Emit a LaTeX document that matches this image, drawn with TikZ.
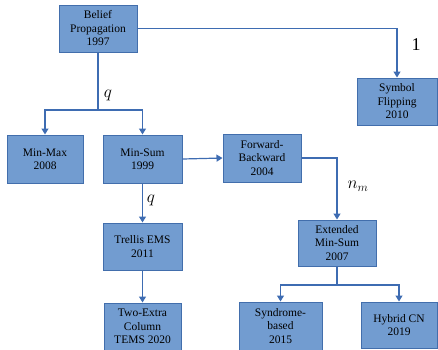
\documentclass[tikz,border=0pt]{standalone}
\usepackage{fontspec}
\setmainfont{Liberation Serif}
\usetikzlibrary{arrows.meta}
\definecolor{boxfill}{RGB}{114,156,208}
\definecolor{boxline}{RGB}{66,110,172}
\definecolor{linkcol}{RGB}{62,108,178}
\tikzset{
  algo/.style={draw=boxline, fill=boxfill, line width=1pt, rectangle,
    align=center, inner sep=0pt, font=\fontsize{11.5}{13.5}\selectfont},
  link/.style={draw=linkcol, line width=1.2pt},
  arr/.style={link, -{Triangle[width=7pt,length=6pt]}},
  lbl/.style={font=\fontsize{17}{17}\selectfont, inner sep=0pt}
}
\begin{document}
\begin{tikzpicture}[x=1pt,y=-1pt]
\useasboundingbox (0,0) rectangle (438,349);
% algorithm boxes
\node[algo, minimum width=78pt, minimum height=47pt] (bp)   at (98,28.5)   {Belief\\Propagation\\1997};
\node[algo, minimum width=80pt, minimum height=47pt] (sf)   at (397,101.5) {Symbol\\Flipping\\2010};
\node[algo, minimum width=76pt, minimum height=48pt] (mm)   at (45,159)    {Min-Max\\2008};
\node[algo, minimum width=79pt, minimum height=48pt] (ms)   at (142.5,159) {Min-Sum\\1999};
\node[algo, minimum width=78pt, minimum height=48pt] (fb)   at (262,158)   {Forward-\\Backward\\2004};
\node[algo, minimum width=79pt, minimum height=47pt] (te)   at (142.5,246.5) {Trellis EMS\\2011};
\node[algo, minimum width=77pt, minimum height=47pt] (tems) at (142.5,326.5) {Two-Extra\\Column\\TEMS 2020};
\node[algo, minimum width=78pt, minimum height=46pt] (ext)  at (337,243)   {Extended\\Min-Sum\\2007};
\node[algo, minimum width=83pt, minimum height=48pt] (syn)  at (280.5,326) {Syndrome-\\based\\2015};
\node[algo, minimum width=76pt, minimum height=46pt] (hy)   at (399,325)   {Hybrid CN\\2019};
% branch points
\coordinate (j1) at (bp.south |- 0,110);
\coordinate (j2) at (ext.south |- 0,285);
% connectors
\draw[arr] (bp.east) -| (sf.north);
\draw[link] (bp.south) -- (j1);
\draw[arr] (j1) -| (mm.north);
\draw[arr] (j1) -| (ms.north);
\draw[arr] (ms.east) -- (fb.west);
\draw[arr] (fb.east) -| (ext.north);
\draw[arr] (ms.south) -- (te.north);
\draw[arr] (te.south) -- (tems.north);
\draw[link] (ext.south) -- (j2);
\draw[arr] (j2) -| (syn.north);
\draw[arr] (j2) -| (hy.north);
% edge labels
\node[lbl] (l1) at (108,95)  {$q$};
\node[lbl] (l2) at (151,200) {$q$};
\node[lbl] (l3) at (358,186) {$n_m$};
\node[lbl, font=\fontsize{18}{18}\selectfont] (l4) at (416,45) {1};
\end{tikzpicture}
\end{document}
